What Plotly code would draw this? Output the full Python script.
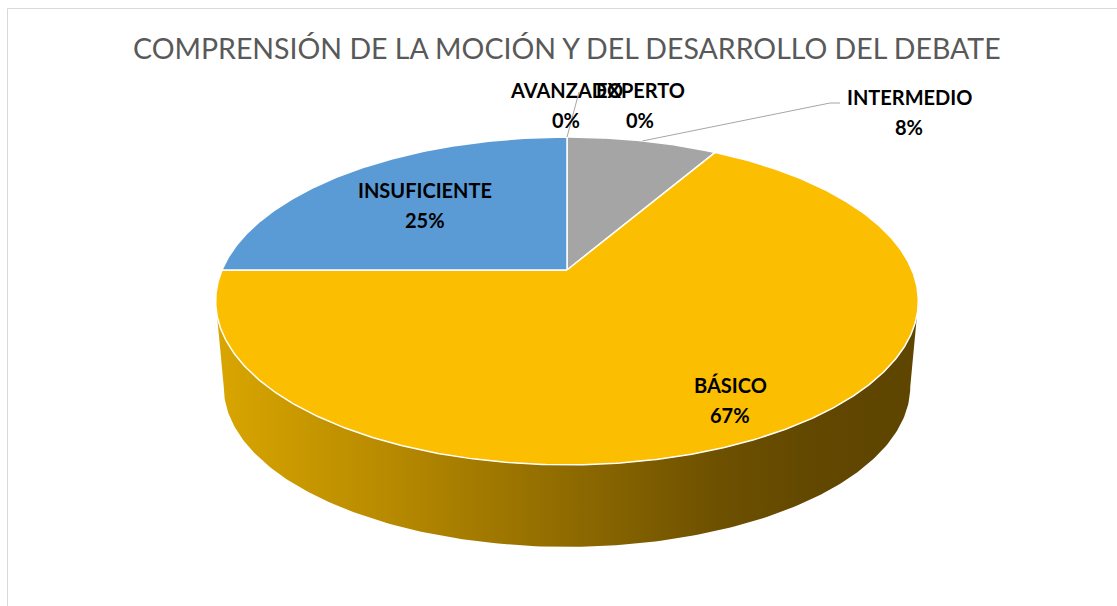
import numpy as np
import plotly.graph_objects as go

# ---------------- data ----------------
categories = ["AVANZADO", "EXPERTO", "INTERMEDIO", "BÁSICO", "INSUFICIENTE"]
values = [0, 0, 1, 8, 3]
slice_colors = ["#ED7D31", "#4472C4", "#A5A5A5", "#FBBE00", "#5B9BD5"]
title_text = "COMPRENSIÓN DE LA MOCIÓN Y DEL DESARROLLO DEL DEBATE"

# ---------------- layout / styling ----------------
W, H = 1117, 606
CX, CY = 567, 270          # pie apex on screen
RX, RY = 345, 158          # projected radii
K = 0.189                  # perspective factor
BOT_CY = 356.5             # apex of bottom disk
BOT_S = 0.977              # scale of bottom disk
LABEL_FONT = "Lato"
LBL_SIZE = 20
TITLE_SIZE = 28.5

# label placement (inside labels: radius factor; outside labels: anchor points)
inside_r = {"BÁSICO": 0.82, "INSUFICIENTE": 0.63}
outside_pos = {"AVANZADO": (566, 105), "EXPERTO": (640, 105), "INTERMEDIO": (909, 112)}


def proj(theta_deg, r=1.0, cy=CY, s=1.0):
    t = np.radians(theta_deg)
    u = r * np.sin(t)
    v = r * np.cos(t)
    w = 1 + K * v
    return CX + s * RX * u / w, cy - s * RY * v / w


fig = go.Figure()

# side wall (front, visible part)
t1 = np.degrees(np.arccos(-K))
t2 = 360 - t1
th = np.linspace(t1, t2, 200)
xt, yt = proj(th)
xb, yb = proj(th[::-1], cy=BOT_CY, s=BOT_S)
sx = np.concatenate([xt, xb, xt[:1]])
sy = np.concatenate([yt, yb, yt[:1]])
x0, x1 = CX - RX * 1.02, CX + RX * 1.02
fig.add_trace(go.Scatter(
    x=sx, y=sy, mode="lines", fill="toself",
    line=dict(width=0, color="rgba(0,0,0,0)"),
    fillgradient=dict(
        type="horizontal", start=x0, stop=x1,
        colorscale=[[0.0, "#D9A600"], [0.27, "#B48700"], [0.5, "#8F6B00"],
                    [0.72, "#6D5000"], [0.86, "#614700"], [1.0, "#5E4500"]],
    ),
    hoverinfo="skip", showlegend=False,
))

# top slices
total = sum(values)
cum = 0.0
mids = []
for cat, val, col in zip(categories, values, slice_colors):
    a = cum / total * 360
    b = (cum + val) / total * 360
    mids.append((a + b) / 2)
    cum += val
    if val <= 0:
        continue
    tt = np.linspace(a, b, max(int(b - a) * 2, 4))
    ax_, ay_ = proj(tt)
    px = np.concatenate([[CX], ax_, [CX]])
    py = np.concatenate([[CY], ay_, [CY]])
    fig.add_trace(go.Scatter(
        x=px, y=py, mode="lines", fill="toself", fillcolor=col,
        line=dict(color="white", width=1.5),
        hoverinfo="skip", showlegend=False,
    ))

# leader lines
lead_col = "#A6A6A6"
mid_map = dict(zip(categories, mids))
lx0, ly0 = proj(mid_map["AVANZADO"])
fig.add_trace(go.Scatter(x=[lx0, 579], y=[ly0, 92], mode="lines",
                         line=dict(color=lead_col, width=1), hoverinfo="skip", showlegend=False))
lx1, ly1 = proj(mid_map["INTERMEDIO"])
fig.add_trace(go.Scatter(x=[lx1, 830, 840], y=[ly1, 103, 103], mode="lines",
                         line=dict(color=lead_col, width=1), hoverinfo="skip", showlegend=False))

# labels
annotations = []
for cat, val in zip(categories, values):
    pct = f"{round(val / total * 100)}%"
    if cat in inside_r:
        lx, ly = proj(mid_map[cat], r=inside_r[cat])
    else:
        lx, ly = outside_pos[cat]
    for txt, dy in ((cat, -15), (pct, 15)):
        annotations.append(dict(
            x=lx, y=ly + dy, xref="x", yref="y", text=f"<b>{txt}</b>",
            showarrow=False, xanchor="center", yanchor="middle",
            font=dict(family=LABEL_FONT, size=LBL_SIZE, color="#000000"),
        ))

annotations.append(dict(
    x=566.5, y=48, xref="x", yref="y", text=title_text, showarrow=False,
    xanchor="center", yanchor="middle",
    font=dict(family=LABEL_FONT, size=TITLE_SIZE, color="#595959"),
))

fig.update_layout(
    width=W, height=H, margin=dict(l=0, r=0, t=0, b=0),
    paper_bgcolor="white", plot_bgcolor="white",
    xaxis=dict(range=[0, W], visible=False, fixedrange=True),
    yaxis=dict(range=[H, 0], visible=False, fixedrange=True),
    annotations=annotations,
    shapes=[dict(type="rect", xref="x", yref="y", x0=7.5, y0=8.5, x1=W + 20, y1=H + 20,
                 line=dict(color="#D9D9D9", width=1), fillcolor="rgba(0,0,0,0)", layer="below")],
)

fig.write_html("out.html", config={"displayModeBar": False},
               post_script="document.body.style.margin='0';document.body.style.overflow='hidden';")
